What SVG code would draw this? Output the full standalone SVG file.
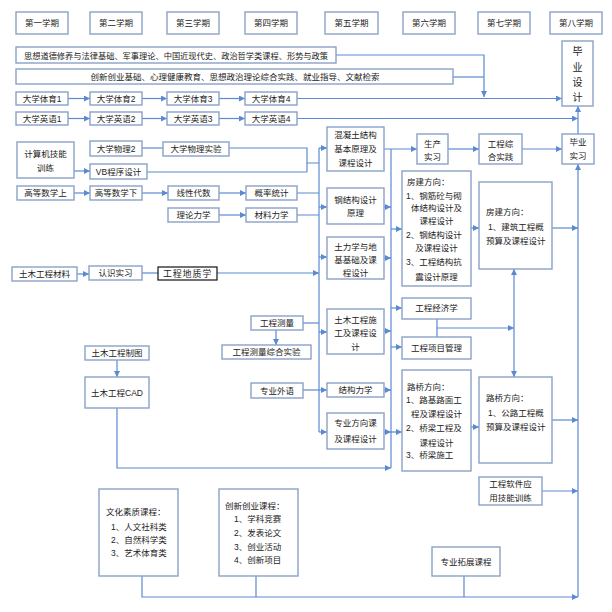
<svg xmlns="http://www.w3.org/2000/svg" width="612" height="612" viewBox="0 0 612 612">
<style>
.b{fill:#fff;stroke:#8aa2c8;stroke-width:1.4}
.k{fill:#fff;stroke:#111;stroke-width:1.2}
.t{font-family:"Liberation Sans","Noto Sans CJK SC",sans-serif;font-size:8.5px;fill:#222}
.m{text-anchor:middle}
.c path{fill:none;stroke:#5b8ad0;stroke-width:1.2}
</style>
<defs>
<marker id="a" viewBox="0 0 10 10" refX="10" refY="5" markerWidth="6" markerHeight="6" markerUnits="userSpaceOnUse" orient="auto-start-reverse">
<path d="M0,0 L10,5 L0,10 z" fill="#5b8ad0"/>
</marker>
</defs>
<rect width="612" height="612" fill="#fff"/>

<g id="connectors" class="c">
<path d="M336,55 H484 V97" marker-end="url(#a)"/>
<path d="M453,77 H484"/>
<path d="M68,98.5 H90" marker-end="url(#a)"/>
<path d="M142,98.5 H167" marker-end="url(#a)"/>
<path d="M219,98.5 H245" marker-end="url(#a)"/>
<path d="M297,98.5 H562" marker-end="url(#a)"/>
<path d="M68,118.5 H90" marker-end="url(#a)"/>
<path d="M142,118.5 H167" marker-end="url(#a)"/>
<path d="M219,118.5 H245" marker-end="url(#a)"/>
<path d="M297,118.5 H578" marker-end="url(#a)"/>
<path d="M578,134 V106" marker-end="url(#a)"/>
<path d="M578,597 V164" marker-end="url(#a)"/>
<path d="M74,171 H90" marker-end="url(#a)"/>
<path d="M142,148 H163"/>
<path d="M229,148 H307 V172 M147,172 H307 M307,163 H319"/>
<path d="M74,193 H90" marker-end="url(#a)"/>
<path d="M142,193 H168" marker-end="url(#a)"/>
<path d="M219,193 H246" marker-end="url(#a)"/>
<path d="M297,193 H319 M297,215 H319"/>
<path d="M219,215 H246" marker-end="url(#a)"/>
<path d="M77,274 H89" marker-end="url(#a)"/>
<path d="M142,273 H158"/>
<path d="M217,273 H319" marker-end="url(#a)"/>
<path d="M303,323 H319"/>
<path d="M276,330 V345" marker-end="url(#a)"/>
<path d="M117,360 V377" marker-end="url(#a)"/>
<path d="M303,390 H327" marker-end="url(#a)"/>
<path d="M319,148 V432"/>
<path d="M319,148 H327" marker-end="url(#a)"/>
<path d="M319,207 H327" marker-end="url(#a)"/>
<path d="M319,257 H327" marker-end="url(#a)"/>
<path d="M319,332 H327" marker-end="url(#a)"/>
<path d="M319,432 H327" marker-end="url(#a)"/>
<path d="M384,149 H417" marker-end="url(#a)"/>
<path d="M391,149 V468"/>
<path d="M384,207 H391" marker-end="url(#a)"/>
<path d="M384,258 H391" marker-end="url(#a)"/>
<path d="M384,331 H391" marker-end="url(#a)"/>
<path d="M384,390 H391" marker-end="url(#a)"/>
<path d="M384,432 H391" marker-end="url(#a)"/>
<path d="M391,229 H402" marker-end="url(#a)"/>
<path d="M391,308 H402" marker-end="url(#a)"/>
<path d="M391,347 H402" marker-end="url(#a)"/>
<path d="M391,432 H402" marker-end="url(#a)"/>
<path d="M117,408 V468 H391" marker-end="url(#a)"/>
<path d="M448,149 H479" marker-end="url(#a)"/>
<path d="M522,149 H562" marker-end="url(#a)"/>
<path d="M471,228 H479" marker-end="url(#a)"/>
<path d="M552,228 H578" marker-end="url(#a)"/>
<path d="M437,319 V337 M437,328 H514" marker-end="url(#a)"/>
<path d="M514,269 V377" marker-start="url(#a)" marker-end="url(#a)"/>
<path d="M471,427 H479" marker-end="url(#a)"/>
<path d="M552,420 H578" marker-end="url(#a)"/>
<path d="M542,491 H578" marker-end="url(#a)"/>
<path d="M142,576 V597 H578" marker-end="url(#a)"/>
<path d="M256,576 V597 M464,576 V597"/>
</g>

<g id="h1"><rect class="b" x="16" y="12" width="52" height="22"/><text class="t m" x="42" y="26">第一学期</text></g>
<g id="h2"><rect class="b" x="90" y="12" width="52" height="22"/><text class="t m" x="116" y="26">第二学期</text></g>
<g id="h3"><rect class="b" x="167" y="12" width="52" height="22"/><text class="t m" x="193" y="26">第三学期</text></g>
<g id="h4"><rect class="b" x="245" y="12" width="52" height="22"/><text class="t m" x="271" y="26">第四学期</text></g>
<g id="h5"><rect class="b" x="325" y="12" width="53" height="22"/><text class="t m" x="351.5" y="26">第五学期</text></g>
<g id="h6"><rect class="b" x="403" y="12" width="52" height="22"/><text class="t m" x="429" y="26">第六学期</text></g>
<g id="h7"><rect class="b" x="478" y="12" width="52" height="22"/><text class="t m" x="504" y="26">第七学期</text></g>
<g id="h8"><rect class="b" x="550" y="12" width="52" height="22"/><text class="t m" x="576" y="26">第八学期</text></g>

<g id="r1"><rect class="b" x="16" y="47" width="320" height="16"/><text class="t" x="24" y="58.5" textLength="304" lengthAdjust="spacingAndGlyphs">思想道德修养与法律基础、军事理论、中国近现代史、政治哲学类课程、形势与政策</text></g>
<g id="r2"><rect class="b" x="16" y="69" width="437" height="15"/><text class="t m" x="235" y="80">创新创业基础、心理健康教育、思想政治理论综合实践、就业指导、文献检索</text></g>
<g id="bysj"><rect class="b" x="562" y="41" width="31" height="65"/>
<text class="t m" x="577.5" y="55" style="font-size:10px">毕</text>
<text class="t m" x="577.5" y="71" style="font-size:10px">业</text>
<text class="t m" x="577.5" y="86" style="font-size:10px">设</text>
<text class="t m" x="577.5" y="101" style="font-size:10px">计</text></g>

<g id="ty1"><rect class="b" x="16" y="92" width="52" height="13"/><text class="t m" x="42" y="102">大学体育1</text></g>
<g id="ty2"><rect class="b" x="90" y="92" width="52" height="13"/><text class="t m" x="116" y="102">大学体育2</text></g>
<g id="ty3"><rect class="b" x="167" y="92" width="52" height="13"/><text class="t m" x="193" y="102">大学体育3</text></g>
<g id="ty4"><rect class="b" x="245" y="92" width="52" height="13"/><text class="t m" x="271" y="102">大学体育4</text></g>
<g id="yy1"><rect class="b" x="16" y="112" width="52" height="13"/><text class="t m" x="42" y="122">大学英语1</text></g>
<g id="yy2"><rect class="b" x="90" y="112" width="52" height="13"/><text class="t m" x="116" y="122">大学英语2</text></g>
<g id="yy3"><rect class="b" x="167" y="112" width="52" height="13"/><text class="t m" x="193" y="122">大学英语3</text></g>
<g id="yy4"><rect class="b" x="245" y="112" width="52" height="13"/><text class="t m" x="271" y="122">大学英语4</text></g>

<g id="jsj"><rect class="b" x="17" y="142" width="57" height="36"/><text class="t m" x="45.5" y="157">计算机技能</text><text class="t m" x="45.5" y="171">训练</text></g>
<g id="wl2"><rect class="b" x="90" y="141" width="52" height="15"/><text class="t m" x="116" y="152">大学物理2</text></g>
<g id="wlsy"><rect class="b" x="163" y="142" width="66" height="14"/><text class="t m" x="196" y="152">大学物理实验</text></g>
<g id="vb"><rect class="b" x="90" y="164" width="57" height="15"/><text class="t m" x="118.5" y="175">VB程序设计</text></g>
<g id="gs1"><rect class="b" x="17" y="186" width="57" height="14"/><text class="t m" x="45.5" y="196">高等数学上</text></g>
<g id="gs2"><rect class="b" x="90" y="186" width="52" height="14"/><text class="t m" x="116" y="196">高等数学下</text></g>
<g id="xd"><rect class="b" x="168" y="186" width="51" height="14"/><text class="t m" x="193.5" y="196">线性代数</text></g>
<g id="gl"><rect class="b" x="246" y="186" width="51" height="14"/><text class="t m" x="271.5" y="196">概率统计</text></g>
<g id="llxl"><rect class="b" x="168" y="208" width="51" height="14"/><text class="t m" x="193.5" y="218">理论力学</text></g>
<g id="clxl"><rect class="b" x="246" y="208" width="51" height="14"/><text class="t m" x="271.5" y="218">材料力学</text></g>
<g id="tmcl"><rect class="b" x="12" y="267" width="65" height="14"/><text class="t m" x="44.5" y="277">土木工程材料</text></g>
<g id="rssx"><rect class="b" x="89" y="266" width="53" height="14"/><text class="t m" x="115.5" y="276">认识实习</text></g>
<g id="gcdz"><rect class="k" x="158" y="267" width="59" height="13"/><text class="t m" x="187.5" y="277" style="font-size:9px;letter-spacing:0.8px">工程地质学</text></g>
<g id="gccl"><rect class="b" x="251" y="316" width="52" height="14"/><text class="t m" x="277" y="326">工程测量</text></g>
<g id="clsy"><rect class="b" x="222" y="345" width="89" height="14"/><text class="t m" x="266.5" y="355">工程测量综合实验</text></g>
<g id="zt"><rect class="b" x="85" y="346" width="64" height="14"/><text class="t m" x="117" y="356">土木工程制图</text></g>
<g id="cad"><rect class="b" x="85" y="377" width="64" height="31"/><text class="t m" x="117" y="396">土木工程CAD</text></g>
<g id="zywy"><rect class="b" x="251" y="383" width="52" height="15"/><text class="t m" x="277" y="394">专业外语</text></g>

<g id="hnt"><rect class="b" x="327" y="127" width="57" height="44"/><text class="t m" x="355.5" y="138">混凝土结构</text><text class="t m" x="355.5" y="152">基本原理及</text><text class="t m" x="355.5" y="166">课程设计</text></g>
<g id="gjg"><rect class="b" x="327" y="188" width="57" height="36"/><text class="t m" x="355.5" y="203">钢结构设计</text><text class="t m" x="355.5" y="216">原理</text></g>
<g id="tlx"><rect class="b" x="327" y="237" width="57" height="42"/><text class="t m" x="355.5" y="250">土力学与地</text><text class="t m" x="355.5" y="263">基基础及课</text><text class="t m" x="355.5" y="276">程设计</text></g>
<g id="sg"><rect class="b" x="327" y="309" width="57" height="45"/><text class="t m" x="355.5" y="323">土木工程施</text><text class="t m" x="355.5" y="336">工及课程设</text><text class="t m" x="355.5" y="350">计</text></g>
<g id="jglx"><rect class="b" x="327" y="383" width="57" height="14"/><text class="t m" x="355.5" y="393">结构力学</text></g>
<g id="zyfx"><rect class="b" x="327" y="413" width="57" height="36"/><text class="t m" x="355.5" y="426">专业方向课</text><text class="t m" x="355.5" y="442">及课程设计</text></g>

<g id="scsx"><rect class="b" x="417" y="134" width="31" height="30"/><text class="t m" x="432.5" y="147">生产</text><text class="t m" x="432.5" y="160">实习</text></g>
<g id="zhsj"><rect class="b" x="479" y="134" width="43" height="30"/><text class="t m" x="500.5" y="147">工程综</text><text class="t m" x="500.5" y="160">合实践</text></g>
<g id="bysx"><rect class="b" x="562" y="134" width="32" height="30"/><text class="t m" x="578" y="145">毕业</text><text class="t m" x="578" y="159">实习</text></g>

<g id="fj6"><rect class="b" x="402" y="171" width="69" height="115"/>
<text class="t" x="407" y="185">房建方向：</text>
<text class="t" x="406" y="199">1、钢筋砼与砌</text>
<text class="t m" x="436.5" y="211">体结构设计及</text>
<text class="t m" x="436.5" y="224">课程设计</text>
<text class="t" x="406" y="238">2、钢结构设计</text>
<text class="t m" x="436.5" y="251">及课程设计</text>
<text class="t" x="406" y="265">3、工程结构抗</text>
<text class="t m" x="436.5" y="280">震设计原理</text></g>
<g id="jjx"><rect class="b" x="402" y="298" width="69" height="21"/><text class="t m" x="436.5" y="311">工程经济学</text></g>
<g id="xmgl"><rect class="b" x="402" y="337" width="69" height="22"/><text class="t m" x="436.5" y="351">工程项目管理</text></g>
<g id="lq6"><rect class="b" x="402" y="370" width="69" height="101"/>
<text class="t" x="407" y="390">路桥方向：</text>
<text class="t" x="406" y="403">1、路基路面工</text>
<text class="t m" x="436.5" y="417">程及课程设计</text>
<text class="t" x="406" y="431">2、桥梁工程及</text>
<text class="t m" x="436.5" y="446">课程设计</text>
<text class="t" x="406" y="458">3、桥梁施工</text></g>

<g id="fj7"><rect class="b" x="479" y="182" width="73" height="87"/>
<text class="t" x="486" y="215">房建方向：</text>
<text class="t" x="488" y="230">1、建筑工程概</text>
<text class="t" x="486" y="244">预算及课程设计</text></g>
<g id="lq7"><rect class="b" x="479" y="377" width="73" height="86"/>
<text class="t" x="486" y="401">路桥方向：</text>
<text class="t" x="488" y="416">1、公路工程概</text>
<text class="t" x="486" y="430">预算及课程设计</text></g>
<g id="rj"><rect class="b" x="479" y="477" width="63" height="28"/><text class="t m" x="510.5" y="487">工程软件应</text><text class="t m" x="510.5" y="501">用技能训练</text></g>
<g id="tz"><rect class="b" x="432" y="547" width="68" height="29"/><text class="t m" x="466" y="565">专业拓展课程</text></g>

<g id="wh"><rect class="b" x="99" y="489" width="79" height="87"/>
<text class="t" x="106" y="515">文化素质课程：</text>
<text class="t" x="111" y="530">1、人文社科类</text>
<text class="t" x="111" y="543">2、自然科学类</text>
<text class="t" x="111" y="556">3、艺术体育类</text></g>
<g id="cx"><rect class="b" x="219" y="489" width="79" height="87"/>
<text class="t" x="225" y="509">创新创业课程：</text>
<text class="t" x="234" y="522">1、学科竞赛</text>
<text class="t" x="234" y="536">2、发表论文</text>
<text class="t" x="234" y="550">3、创业活动</text>
<text class="t" x="234" y="563">4、创新项目</text></g>
</svg>
